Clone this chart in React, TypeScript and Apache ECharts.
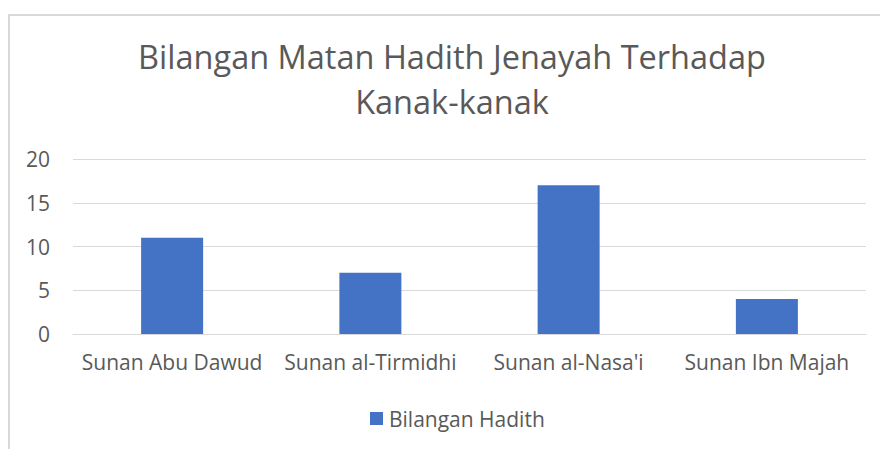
import React, { useEffect, useRef } from "react";
import * as echarts from "echarts";

const categories = ["Sunan Abu Dawud", "Sunan al-Tirmidhi", "Sunan al-Nasa'i", "Sunan Ibn Majah"];
const values = [11, 7, 17, 4];
const seriesName = "Bilangan Hadith";
const titleText = "Bilangan Matan Hadith Jenayah Terhadap\nKanak-kanak";

const FONT = "'Open Sans', sans-serif";
const TEXT = "#595959";

export default function App() {
  const ref = useRef<HTMLDivElement>(null);
  useEffect(() => {
    const chart = echarts.init(ref.current!, null, { renderer: "svg" });
    chart.setOption({
      animation: false,
      backgroundColor: "#ffffff",
      textStyle: { fontFamily: FONT },
      title: {
        text: titleText,
        left: 447,
        textAlign: "center",
        top: 29,
        textStyle: {
          fontFamily: FONT,
          fontSize: 32.5,
          fontWeight: "normal",
          color: TEXT,
          lineHeight: 45,
        },
      },
      graphic: [
        {
          type: "rect",
          shape: { x: 9, y: 15, width: 900, height: 500 },
          style: { fill: "none", stroke: "#D9D9D9", lineWidth: 2 },
          silent: true,
        },
      ],
      legend: {
        data: [seriesName],
        top: 408,
        left: 370,
        padding: 0,
        itemWidth: 13,
        itemHeight: 13,
        itemGap: 6,
        icon: "rect",
        textStyle: { fontFamily: FONT, fontSize: 21, color: TEXT, padding: [0, 0, 0, 1] },
      },
      grid: { left: 73, right: 14, top: 159, bottom: 115, containLabel: false },
      xAxis: {
        type: "category",
        data: categories,
        axisLine: { show: true, lineStyle: { color: "#D9D9D9", width: 1 } },
        axisTick: { show: false },
        axisLabel: { fontFamily: FONT, fontSize: 21, color: TEXT, margin: 17, interval: 0 },
      },
      yAxis: {
        type: "value",
        min: 0,
        max: 20,
        interval: 5,
        axisLine: { show: false },
        axisTick: { show: false },
        splitLine: { lineStyle: { color: "#D9D9D9", width: 1 } },
        axisLabel: { fontFamily: FONT, fontSize: 21, color: TEXT, margin: 23 },
      },
      series: [
        {
          name: seriesName,
          type: "bar",
          data: values,
          barWidth: 62,
          itemStyle: { color: "#4472C4" },
        },
      ],
    });
    return () => chart.dispose();
  }, []);
  return (
    <div
      ref={ref}
      style={{ position: "fixed", left: 0, top: 0, width: 880, height: 449 }}
    />
  );
}
